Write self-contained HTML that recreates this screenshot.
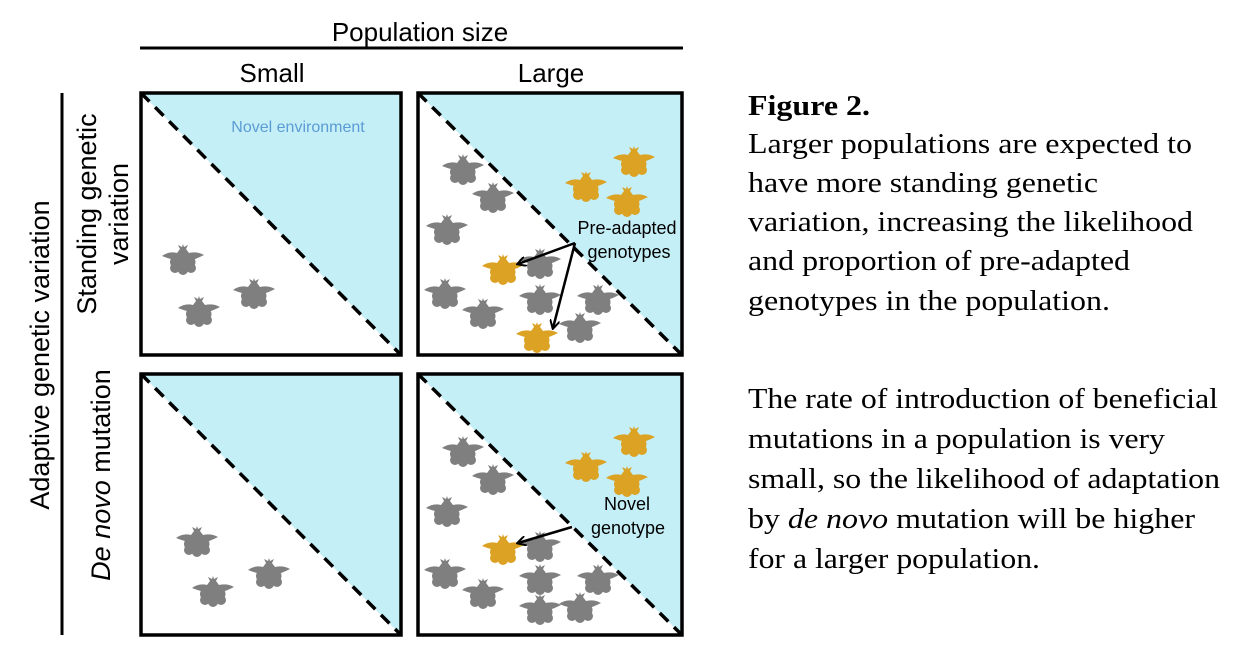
<!DOCTYPE html>
<html><head><meta charset="utf-8"><style>
html,body{margin:0;padding:0;background:#fff;}
svg{display:block;}
</style></head><body>
<svg width="1251" height="661" viewBox="0 0 1251 661" xmlns="http://www.w3.org/2000/svg">
<defs>
<g id="pl">
<path d="M-21,-2 Q-14,-7 -6,-5 L-3,-9 L-5,-13 L-1,-11 L0,-14 L1,-11 L5,-13 L3,-9 L6,-5 Q14,-7 21,-3 Q15,0 12,1 L-12,1 Q-16,0 -21,-2 Z"/>
<circle cx="-7" cy="4" r="6"/>
<circle cx="6" cy="4" r="6.5"/>
<circle cx="-8" cy="10" r="5"/>
<circle cx="8" cy="10" r="5"/>
<circle cx="0" cy="12" r="5"/>
<circle cx="0" cy="5" r="7"/>
</g>
<marker id="ah" markerWidth="10" markerHeight="10" refX="8" refY="5" orient="auto" markerUnits="userSpaceOnUse">
<path d="M0,0 L9,5 L0,10" fill="none" stroke="#000" stroke-width="2"/>
</marker>
</defs>
<g font-family="Liberation Sans, Arial, sans-serif" fill="#000">
<text x="420" y="41" font-size="26" text-anchor="middle">Population size</text>
<text x="272" y="82" font-size="26" text-anchor="middle">Small</text>
<text x="551" y="82" font-size="26" text-anchor="middle">Large</text>
</g>
<line x1="140" y1="48" x2="683" y2="48" stroke="#000" stroke-width="3"/>
<line x1="62" y1="93" x2="62" y2="635" stroke="#000" stroke-width="3"/>
<g font-family="Liberation Sans, Arial, sans-serif" font-size="27" text-anchor="middle">
<text transform="translate(49,355) rotate(-90)">Adaptive genetic variation</text>
<text transform="translate(96,214) rotate(-90)">Standing genetic</text>
<text transform="translate(128,214) rotate(-90)">variation</text>
<text transform="translate(110,475) rotate(-90)"><tspan font-style="italic">De novo</tspan> mutation</text>
</g>
<g stroke="#000">
<polygon points="141,93 401,93 401,355" fill="#c5eff7" stroke="none"/>
<polygon points="418,93 682,93 682,355" fill="#c5eff7" stroke="none"/>
<polygon points="141,374 401,374 401,635" fill="#c5eff7" stroke="none"/>
<polygon points="418,374 682,374 682,635" fill="#c5eff7" stroke="none"/>
<g stroke-width="3.5" stroke-dasharray="12,8">
<line x1="141" y1="93" x2="401" y2="355"/>
<line x1="418" y1="93" x2="682" y2="355"/>
<line x1="141" y1="374" x2="401" y2="635"/>
<line x1="418" y1="374" x2="682" y2="635"/>
</g>
<g fill="none" stroke-width="3.5">
<rect x="141" y="93" width="260" height="262"/>
<rect x="418" y="93" width="264" height="262"/>
<rect x="141" y="374" width="260" height="261"/>
<rect x="418" y="374" width="264" height="261"/>
</g>
</g>
<text x="298" y="132" font-family="Liberation Sans, Arial, sans-serif" font-size="16" fill="#5b9bd5" text-anchor="middle">Novel environment</text>
<g fill="#7f7f7f">
<use href="#pl" x="183" y="258"/><use href="#pl" x="199" y="310"/><use href="#pl" x="254" y="292"/>
<use href="#pl" x="197" y="540"/><use href="#pl" x="213" y="590"/><use href="#pl" x="269" y="572"/>
<use href="#pl" x="463" y="168"/><use href="#pl" x="493" y="196"/><use href="#pl" x="447" y="228"/><use href="#pl" x="540" y="262"/><use href="#pl" x="445" y="292"/><use href="#pl" x="483" y="312"/><use href="#pl" x="540" y="298"/><use href="#pl" x="598" y="298"/><use href="#pl" x="580" y="326"/>
<use href="#pl" x="463" y="450"/><use href="#pl" x="493" y="478"/><use href="#pl" x="447" y="510"/><use href="#pl" x="540" y="545"/><use href="#pl" x="445" y="572"/><use href="#pl" x="483" y="592"/><use href="#pl" x="540" y="578"/><use href="#pl" x="598" y="578"/><use href="#pl" x="540" y="608"/><use href="#pl" x="580" y="606"/>
</g>
<g fill="#dba224">
<use href="#pl" x="634" y="160"/><use href="#pl" x="586" y="185"/><use href="#pl" x="627" y="200"/><use href="#pl" x="503" y="268"/><use href="#pl" x="537" y="336"/>
<use href="#pl" x="634" y="440"/><use href="#pl" x="586" y="465"/><use href="#pl" x="627" y="480"/><use href="#pl" x="503" y="548"/>
</g>
<g font-family="Liberation Sans, Arial, sans-serif" font-size="18" text-anchor="middle">
<text x="627" y="234">Pre-adapted</text>
<text x="629" y="258">genotypes</text>
<text x="627" y="510">Novel</text>
<text x="628" y="534">genotype</text>
</g>
<g stroke="#000" stroke-width="2.5" fill="none">
<line x1="575" y1="243" x2="518" y2="264" marker-end="url(#ah)"/>
<line x1="575" y1="243" x2="553" y2="328" marker-end="url(#ah)"/>
<line x1="572" y1="527" x2="518" y2="543" marker-end="url(#ah)"/>
</g>
<g font-family="Liberation Serif, 'Times New Roman', serif" font-size="28" fill="#000">
<text x="748" y="115" font-weight="bold" textLength="122" lengthAdjust="spacingAndGlyphs">Figure 2.</text>
<text x="748" y="153" textLength="444" lengthAdjust="spacingAndGlyphs">Larger populations are expected to</text>
<text x="748" y="192" textLength="350" lengthAdjust="spacingAndGlyphs">have more standing genetic</text>
<text x="748" y="231" textLength="445" lengthAdjust="spacingAndGlyphs">variation, increasing the likelihood</text>
<text x="748" y="270" textLength="382" lengthAdjust="spacingAndGlyphs">and proportion of pre-adapted</text>
<text x="748" y="310" textLength="362" lengthAdjust="spacingAndGlyphs">genotypes in the population.</text>
<text x="748" y="408" textLength="470" lengthAdjust="spacingAndGlyphs">The rate of introduction of beneficial</text>
<text x="748" y="448" textLength="417" lengthAdjust="spacingAndGlyphs">mutations in a population is very</text>
<text x="748" y="488" textLength="472" lengthAdjust="spacingAndGlyphs">small, so the likelihood of adaptation</text>
<text x="748" y="528" textLength="447" lengthAdjust="spacingAndGlyphs">by <tspan font-style="italic">de novo</tspan> mutation will be higher</text>
<text x="748" y="568" textLength="292" lengthAdjust="spacingAndGlyphs">for a larger population.</text>
</g>
</svg>
</body></html>
